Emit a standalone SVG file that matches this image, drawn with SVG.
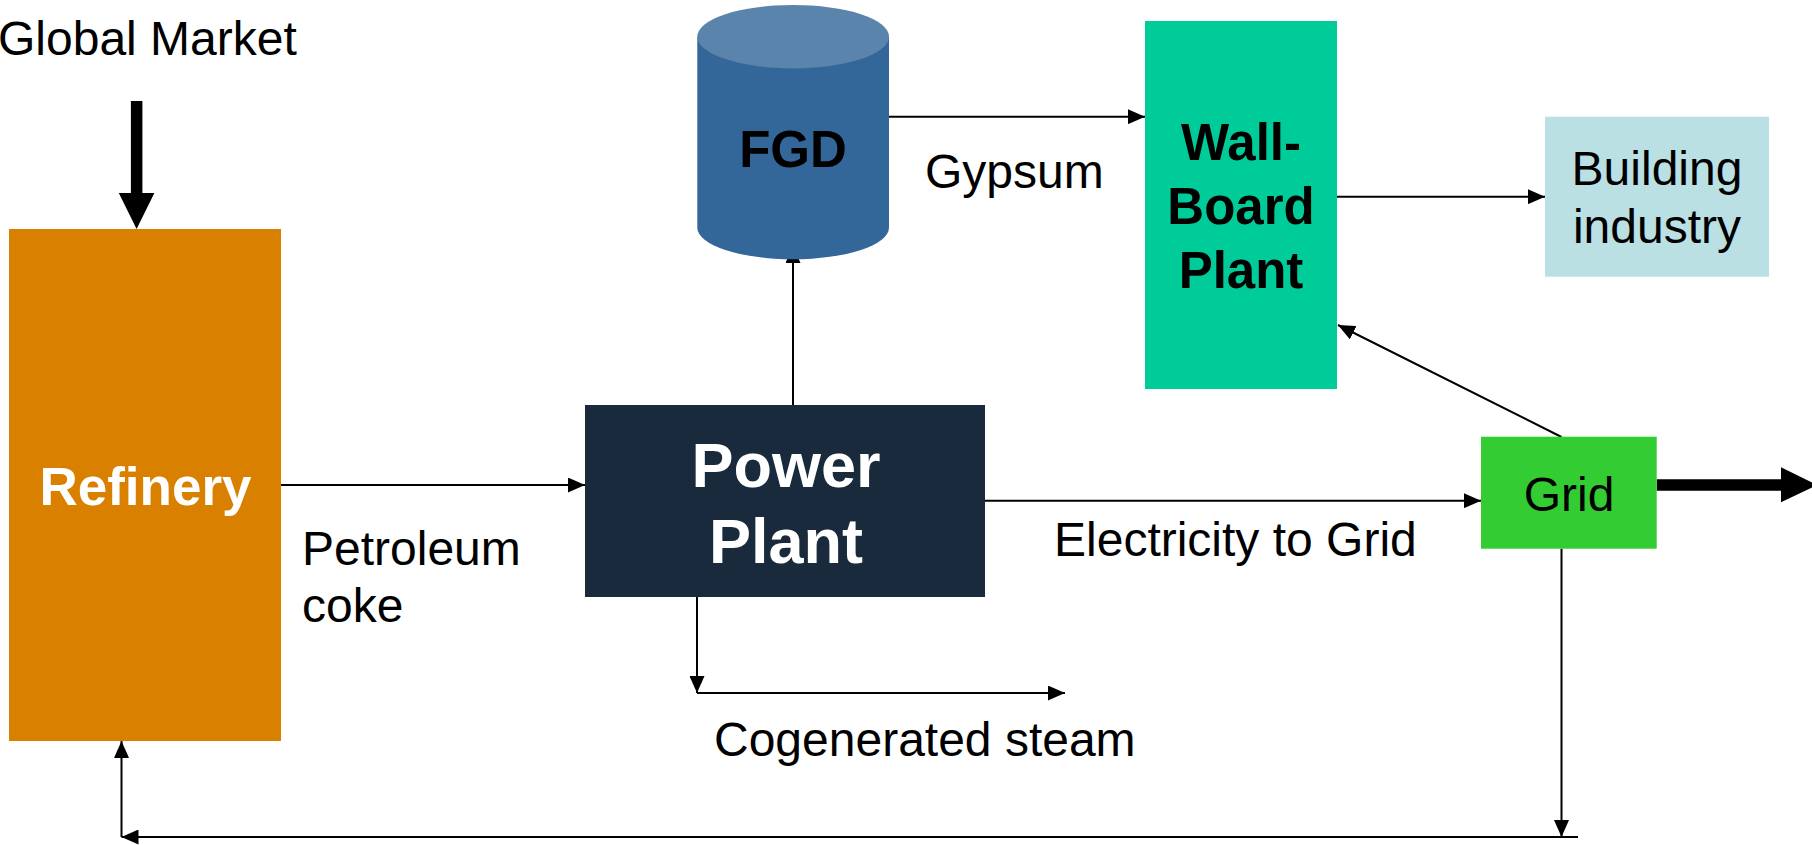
<svg xmlns="http://www.w3.org/2000/svg" width="1812" height="845" viewBox="0 0 1812 845">
<defs>
<style>
.lbl{font-family:"Liberation Sans",Arial,sans-serif;font-size:48px;fill:#000}
.bold{font-family:"Liberation Sans",Arial,sans-serif;font-weight:bold;text-anchor:middle}
.ln{stroke:#000;stroke-width:2;fill:none}
</style>
<marker id="ah" markerUnits="userSpaceOnUse" markerWidth="17" markerHeight="15" refX="17" refY="7.5" orient="auto">
<path d="M0,0 L17,7.5 L0,15 z" fill="#000"/>
</marker>
</defs>
<rect width="1812" height="845" fill="#fff"/>

<g id="connectors">
<polygon points="130.9,101 142.4,101 142.4,193 154.4,193 136.6,229 118.8,193 130.9,193" fill="#000"/>
<line class="ln" x1="281" y1="485" x2="585" y2="485" marker-end="url(#ah)"/>
<line class="ln" x1="793" y1="405" x2="793" y2="246" marker-end="url(#ah)"/>
<line class="ln" x1="889" y1="116.7" x2="1145" y2="116.7" marker-end="url(#ah)"/>
<line class="ln" x1="1337" y1="196.7" x2="1545" y2="196.7" marker-end="url(#ah)"/>
<line class="ln" x1="985" y1="500.7" x2="1481" y2="500.7" marker-end="url(#ah)"/>
<line class="ln" x1="697" y1="597" x2="697" y2="693" marker-end="url(#ah)"/>
<line class="ln" x1="697" y1="693" x2="1065" y2="693" marker-end="url(#ah)"/>
<line class="ln" x1="1561.5" y1="437" x2="1338" y2="325" marker-end="url(#ah)"/>
<line class="ln" x1="1561.5" y1="548.7" x2="1561.5" y2="837" marker-end="url(#ah)"/>
<line class="ln" x1="1578" y1="837" x2="121.5" y2="837" marker-end="url(#ah)"/>
<line class="ln" x1="121.5" y1="837" x2="121.5" y2="741" marker-end="url(#ah)"/>
<polygon points="1656.7,479.3 1781,479.3 1781,467.3 1817,485 1781,502.3 1781,490.7 1656.7,490.7" fill="#000"/>
</g>

<g id="global-market">
<text class="lbl" x="-2" y="55">Global Market</text>
</g>

<g id="refinery">
<rect x="9" y="229" width="272" height="512" fill="#d98000"/>
<text class="bold" x="145.5" y="505" font-size="53" fill="#fff">Refinery</text>
</g>

<g id="fgd">
<path d="M697.3,36.7 L697.3,227.6 A95.85,31.7 0 0 0 889,227.6 L889,36.7 Z" fill="#336699"/>
<ellipse cx="793.15" cy="36.7" rx="95.85" ry="31.7" fill="#5b84ac"/>
<text class="bold" x="793" y="166.7" font-size="51" fill="#000">FGD</text>
</g>

<g id="wallboard">
<rect x="1145" y="21" width="192" height="368" fill="#00cc99"/>
<text class="bold" x="1241" y="160" font-size="51" fill="#000">Wall-</text>
<text class="bold" x="1241" y="224" font-size="51" fill="#000">Board</text>
<text class="bold" x="1241" y="287.5" font-size="51" fill="#000">Plant</text>
</g>

<g id="building">
<rect x="1545" y="116.7" width="224" height="160" fill="#bae0e4"/>
<text class="lbl" x="1657" y="184.5" text-anchor="middle">Building</text>
<text class="lbl" x="1657" y="243" text-anchor="middle">industry</text>
</g>

<g id="power-plant">
<rect x="585" y="405" width="400" height="192" fill="#182a3c"/>
<text class="bold" x="786" y="487" font-size="63" fill="#fff">Power</text>
<text class="bold" x="786" y="562.5" font-size="63" fill="#fff">Plant</text>
</g>

<g id="grid">
<rect x="1481" y="436.7" width="175.7" height="112" fill="#33cc33"/>
<text class="lbl" x="1569" y="510.5" text-anchor="middle">Grid</text>
</g>

<g id="labels">
<text class="lbl" x="925" y="188">Gypsum</text>
<text class="lbl" x="302" y="565">Petroleum</text>
<text class="lbl" x="302" y="622">coke</text>
<text class="lbl" x="1054" y="556">Electricity to Grid</text>
<text class="lbl" x="714" y="756">Cogenerated steam</text>
</g>
</svg>
